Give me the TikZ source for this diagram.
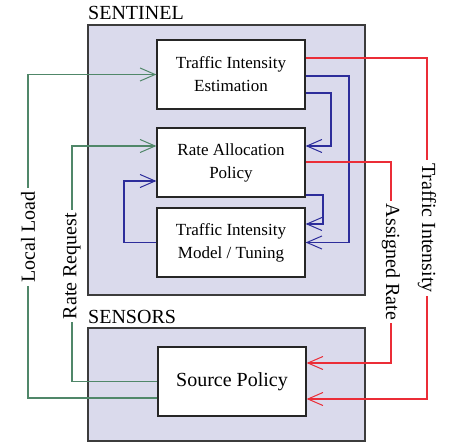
\documentclass[tikz,border=0pt]{standalone}
\usepackage{fontspec}
\setmainfont{Liberation Serif}
\usetikzlibrary{arrows.meta}

\definecolor{panelfill}{RGB}{218,218,236}
\definecolor{panelline}{RGB}{60,60,60}
\definecolor{loadgreen}{RGB}{80,135,105}
\definecolor{loopblue}{RGB}{45,45,155}
\definecolor{ratered}{RGB}{235,45,55}

\tikzset{
  panel/.style={draw=panelline, line width=1.8pt, fill=panelfill, inner sep=0pt},
  panellabel/.style={anchor=base west, inner sep=0pt, font=\fontsize{20}{24}\selectfont},
  stage/.style={draw=black!85, line width=1.3pt, fill=white, minimum width=148pt,
    minimum height=69pt, align=center, inner sep=0pt, font=\fontsize{17}{23}\selectfont},
  flow/.style={line width=1.1pt, -{Straight Barb[length=15pt,width=13pt,line width=1pt]}},
  gline/.style={flow, draw=loadgreen},
  bline/.style={flow, draw=loopblue},
  rline/.style={flow, draw=ratered},
  sidelabel/.style={fill=white, inner sep=3pt, font=\fontsize{20}{24}\selectfont}
}

\begin{document}
\begin{tikzpicture}[x=1pt, y=-1pt]
\useasboundingbox (0,0) rectangle (449,443);

% panels
\node[panel, minimum width=277pt, minimum height=270pt] (sentinel) at (226.5,160) {};
\node[panel, minimum width=277pt, minimum height=113pt] (sensors) at (226.5,384.5) {};
\node[panellabel] (sentinellbl) at (88,20) {SENTINEL};
\node[panellabel] (sensorslbl) at (88,323) {SENSORS};

% stages
\node[stage] (tie) at (231,74.5) {Traffic Intensity\\Estimation};
\node[stage] (rap) at (231,162.5) {Rate Allocation\\Policy};
\node[stage] (tim) at (231,242.5) {Traffic Intensity\\Model / Tuning};
\node[stage, font=\fontsize{20}{24}\selectfont] (sp) at (232,381.5) {Source Policy};

% sensor reports (green)
\draw[gline] (sp.west |- 0,398) -- (28,398) -- (28,74.5) -- (tie.west);
\draw[gline] (sp.west) -- (72,381.5) -- (72,146) -- (rap.west |- 0,146);
\node[sidelabel, rotate=90] (loadlbl) at (28,237) {Local Load};
\node[sidelabel, rotate=90] (reqlbl) at (72,266) {Rate Request};

% internal loops (blue)
\draw[bline] (tie.east |- 0,76) -- (349,76) -- (349,242.5) -- (tim.east);
\draw[bline] (tie.east |- 0,93) -- (331,93) -- (331,146) -- (rap.east |- 0,146);
\draw[bline] (rap.east |- 0,195) -- (323,195) -- (323,224) -- (tim.east |- 0,224);
\draw[bline] (tim.west) -- (124,242.5) -- (124,181) -- (rap.west |- 0,181);

% feedback to sensors (red)
\draw[rline] (tie.east |- 0,58) -- (427,58) -- (427,399) -- (sp.east |- 0,399);
\draw[rline] (rap.east |- 0,162) -- (391,162) -- (391,363) -- (sp.east |- 0,363);
\node[sidelabel, rotate=-90] (intlbl) at (427,228) {Traffic Intensity};
\node[sidelabel, rotate=-90] (ratelbl) at (391,262) {Assigned Rate};
\end{tikzpicture}
\end{document}
